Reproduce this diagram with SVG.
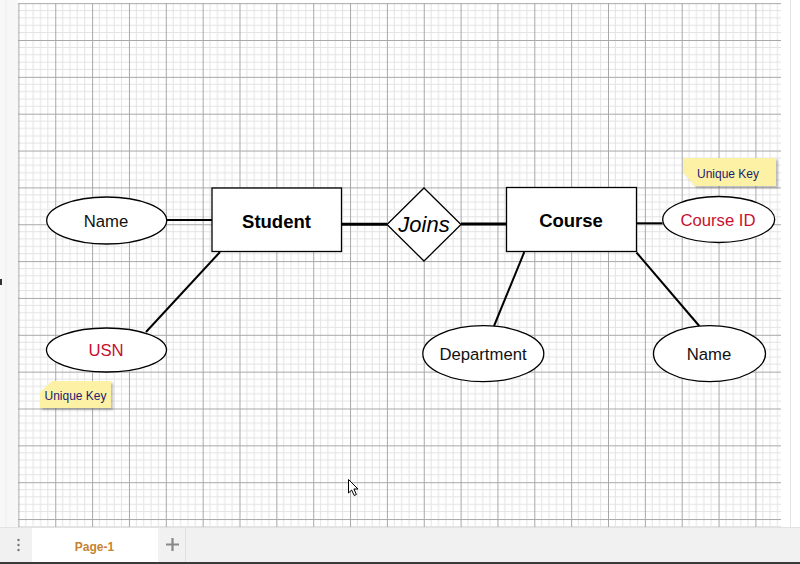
<svg xmlns="http://www.w3.org/2000/svg" width="800" height="564" viewBox="0 0 800 564">
<defs>
<pattern id="grid" x="18.4" y="3.15" width="36.85" height="36.85" patternUnits="userSpaceOnUse">
<path d="M7.37 0V36.85M14.74 0V36.85M22.11 0V36.85M29.48 0V36.85M0 7.37H36.85M0 14.74H36.85M0 22.11H36.85M0 29.48H36.85" stroke="#e3e3e3" stroke-width="1" fill="none"/>
<path d="M0.5 0V36.85M0 0.5H36.85" stroke="#a8a8a8" stroke-width="1" fill="none"/>
</pattern>
<filter id="sh" x="-10%" y="-20%" width="130%" height="160%">
<feDropShadow dx="2" dy="2" stdDeviation="1" flood-color="#000" flood-opacity="0.25"/>
</filter>
</defs>
<style>
.ent{fill:#fff;stroke:#000;stroke-width:1.3}
.att{fill:#fff;stroke:#000;stroke-width:1.3}
.lnk{stroke:#000;stroke-width:2;fill:none}
.thick{stroke-width:3}
.t{font-family:"Liberation Sans",Arial,sans-serif;text-anchor:middle;dominant-baseline:central}
.big{font-size:18.5px;font-weight:bold;fill:#000}
.at{font-size:16.7px;fill:#111}
.key{fill:#c8102e}
.note{fill:#fcf1a4;filter:url(#sh)}
.nt{font-size:12px;fill:#1c1c70}
</style>
<rect width="800" height="564" fill="#fff"/>
<rect x="0" y="0" width="18" height="528" fill="#f7f7f7"/>
<line x1="6" y1="0" x2="6" y2="528" stroke="#ececec"/>
<rect x="18" y="3" width="763" height="524" fill="#fff"/>
<rect x="18" y="3" width="763" height="524" fill="url(#grid)"/>
<line x1="790.5" y1="0" x2="790.5" y2="528" stroke="#e4e4e4"/>
<rect x="0" y="279" width="2" height="6" fill="#333"/>

<g id="connectors">
<line class="lnk" x1="163" y1="220" x2="212" y2="220"/>
<line class="lnk" x1="220" y1="252" x2="146" y2="332"/>
<line class="lnk thick" x1="341.5" y1="224.3" x2="387" y2="224.3"/>
<line class="lnk thick" x1="461" y1="224" x2="506.5" y2="224"/>
<line class="lnk" x1="636.5" y1="223.3" x2="662.5" y2="223.3"/>
<line class="lnk" x1="524.3" y1="252" x2="494" y2="326"/>
<line class="lnk" x1="636.5" y1="252.5" x2="699.3" y2="326"/>
</g>

<g id="student">
<rect class="ent" x="212" y="188" width="129.5" height="63.5"/>
<text class="t big" x="276.5" y="221">Student</text>
</g>
<g id="joins">
<polygon class="ent" points="424,188 461,224.5 424,261 387,224.5"/>
<text class="t" x="424" y="224" font-size="22" font-style="italic" fill="#000">Joins</text>
</g>
<g id="course">
<rect class="ent" x="506.5" y="187.5" width="130" height="64"/>
<text class="t big" x="571" y="220">Course</text>
</g>
<g id="name-student">
<ellipse class="att" cx="106.7" cy="220.5" rx="60" ry="23.5"/>
<text class="t at" x="106" y="221">Name</text>
</g>
<g id="usn">
<ellipse class="att" cx="106.5" cy="350" rx="60" ry="22"/>
<text class="t at key" x="106" y="350">USN</text>
</g>
<g id="course-id">
<ellipse class="att" cx="718.7" cy="219.5" rx="56" ry="23"/>
<text class="t at key" x="718" y="220">Course ID</text>
</g>
<g id="department">
<ellipse class="att" cx="483.3" cy="353.7" rx="60.5" ry="28"/>
<text class="t at" x="483" y="354">Department</text>
</g>
<g id="name-course">
<ellipse class="att" cx="709.5" cy="353.7" rx="56" ry="28"/>
<text class="t at" x="709" y="354">Name</text>
</g>
<g id="note-course-id">
<polygon class="note" points="683,158 776,158 776,186 695,186 683,172"/>
<text class="t nt" x="728" y="173.5">Unique Key</text>
</g>
<g id="note-usn">
<polygon class="note" points="52,381 111,381 111,408 40,408 40,392"/>
<text class="t nt" x="75.5" y="396">Unique Key</text>
</g>

<path d="M348.5 479.5V493L351.6 490L354.2 495.5L356.4 494.5L353.9 489H358Z" fill="#fff" stroke="#000" stroke-width="1"/>

<rect x="0" y="527.5" width="800" height="35" fill="#f1f1f1"/>
<line x1="0" y1="527.5" x2="800" y2="527.5" stroke="#e2e2e2"/>
<rect x="32" y="528" width="126" height="34" fill="#fff"/>
<line x1="185.5" y1="528" x2="185.5" y2="562" stroke="#e0e0e0"/>
<circle cx="18.5" cy="540" r="1.2" fill="#777"/>
<circle cx="18.5" cy="545" r="1.2" fill="#777"/>
<circle cx="18.5" cy="550" r="1.2" fill="#777"/>
<text x="94.5" y="546.5" font-family="'Liberation Sans',Arial,sans-serif" font-size="12" font-weight="bold" fill="#c7832f" text-anchor="middle" dominant-baseline="central">Page-1</text>
<path d="M172.5 538V551M166 544.5H179" stroke="#888" stroke-width="2.2"/>
<rect x="0" y="562" width="800" height="2" fill="#3a3a3a"/>
</svg>
